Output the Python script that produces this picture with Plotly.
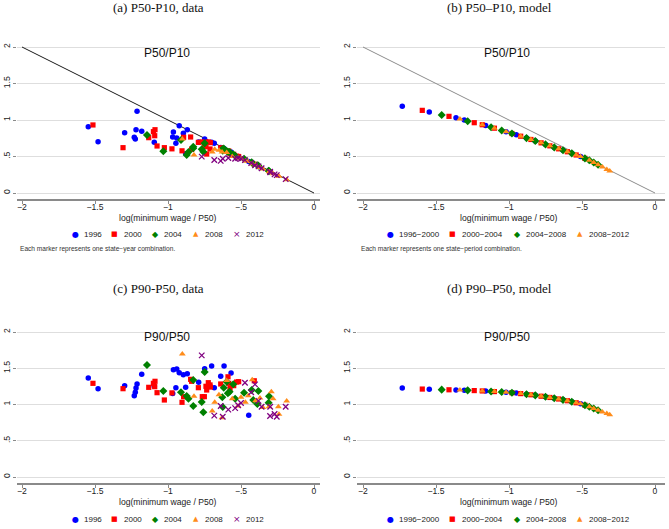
import plotly.graph_objects as go

# ---------------- data: panels (a) and (c), one entry per state-year ----------------
years = ["1996", "2000", "2004", "2008", "2012"]

x_1996 = [-1.546, -1.479, -1.297, -1.212, -1.219, -1.224, -1.231, -1.180, -1.094, -0.963,
          -0.968, -0.940, -0.946, -0.923, -0.895, -0.868, -0.879, -0.790, -0.749, -0.701,
          -0.683, -0.639, -0.616, -0.568, -0.447]
a_1996 = [0.908, 0.703, 0.826, 1.119, 0.867, 0.740, 0.763, 0.845, 0.694, 0.836,
          0.767, 0.753, 0.683, 0.920, 0.818, 0.868, 0.539, 0.700, 0.740, 0.695,
          0.680, 0.625, 0.610, 0.560, 0.430]
c_1996 = [1.366, 1.218, 1.260, 1.283, 1.228, 1.168, 1.122, 1.416, 1.250, 1.480,
          1.150, 1.490, 1.232, 1.439, 1.412, 1.425, 1.237, 1.306, 1.494, 1.531,
          1.232, 1.389, 1.531, 1.434, 0.851]

x_2000 = [-1.514, -1.308, -1.132, -1.100, -1.089, -1.091, -1.075, -1.025, -0.973, -0.893,
          -0.904, -0.845, -0.838, -0.792, -0.765, -0.751, -0.740, -0.735, -0.724, -0.712,
          -0.710, -0.639, -0.589, -0.584, -0.575, -0.550, -0.530, -0.516, -0.409]
a_2000 = [0.932, 0.621, 0.758, 0.840, 0.867, 0.785, 0.644, 0.621, 0.605, 0.763,
          0.578, 0.767, 0.598, 0.694, 0.700, 0.660, 0.634, 0.534, 0.700, 0.603,
          0.690, 0.620, 0.570, 0.575, 0.540, 0.530, 0.505, 0.500, 0.395]
c_2000 = [1.292, 1.218, 1.237, 1.292, 1.320, 1.246, 1.163, 1.062, 1.160, 1.108,
          1.030, 1.347, 1.320, 1.232, 1.108, 1.108, 1.251, 1.200, 1.301, 1.270,
          1.240, 1.283, 1.382, 1.292, 1.223, 1.260, 1.310, 1.315, 1.327]

x_2004 = [-1.144, -1.032, -0.911, -0.872, -0.860, -0.827, -0.827, -0.769, -0.758, -0.749,
          -0.628, -0.625, -0.618, -0.598, -0.590, -0.578, -0.553, -0.540, -0.479, -0.427,
          -0.416, -0.388, -0.381, -0.308, -0.311]
a_2004 = [0.795, 0.571, 0.726, 0.520, 0.560, 0.634, 0.612, 0.600, 0.566, 0.680,
          0.600, 0.580, 0.610, 0.575, 0.565, 0.560, 0.530, 0.510, 0.470, 0.420,
          0.400, 0.380, 0.375, 0.300, 0.305]
c_2004 = [1.545, 1.185, 1.168, 1.117, 1.080, 1.338, 0.979, 1.034, 0.892, 1.448,
          1.099, 0.966, 1.232, 1.315, 1.154, 1.177, 1.280, 1.080, 1.163, 1.200,
          1.062, 1.007, 1.186, 1.113, 1.025]

x_2008 = [-0.902, -0.822, -0.697, -0.680, -0.651, -0.630, -0.598, -0.560, -0.520, -0.500,
          -0.470, -0.450, -0.423, -0.400, -0.370, -0.350, -0.292, -0.308, -0.280, -0.244,
          -0.240, -0.187]
a_2008 = [0.740, 0.520, 0.560, 0.600, 0.585, 0.560, 0.555, 0.500, 0.480, 0.470,
          0.440, 0.430, 0.400, 0.385, 0.350, 0.330, 0.280, 0.290, 0.265, 0.235,
          0.230, 0.180]
c_2008 = [1.697, 1.113, 0.910, 1.030, 1.135, 0.818, 1.330, 1.080, 0.980, 1.100,
          1.030, 1.120, 1.343, 1.050, 1.090, 0.960, 1.177, 0.970, 1.080, 0.970,
          0.864, 1.048]

x_2012 = [-0.769, -0.683, -0.639, -0.625, -0.587, -0.540, -0.520, -0.500, -0.473, -0.430,
          -0.404, -0.380, -0.359, -0.301, -0.300, -0.270, -0.255, -0.194]
a_2012 = [0.498, 0.452, 0.440, 0.470, 0.480, 0.470, 0.480, 0.470, 0.450, 0.410,
          0.380, 0.365, 0.340, 0.290, 0.285, 0.255, 0.245, 0.190]
c_2012 = [1.678, 0.846, 0.979, 0.832, 0.929, 0.950, 0.990, 1.020, 1.301, 1.170,
          1.278, 1.050, 0.970, 0.841, 0.970, 0.870, 0.830, 0.970]

# ---------------- data: panels (b) and (d), one entry per state-period ----------------
periods = ["1996\u22122000", "2000\u22122004", "2004\u22122008", "2008\u22122012"]

mx_p1 = [-1.731, -1.546, -1.363, -1.306, -1.160, -1.020, -0.950, -0.880, -0.820, -0.750,
         -0.690, -0.630, -0.570, -0.510]
mb_p1 = [1.187, 1.110, 1.030, 1.000, 0.925, 0.840, 0.797, 0.752, 0.713, 0.666,
         0.625, 0.585, 0.543, 0.499]
md_p1 = [1.227, 1.212, 1.200, 1.197, 1.185, 1.168, 1.157, 1.141, 1.126, 1.106,
         1.087, 1.064, 1.039, 1.009]

mx_p2 = [-1.594, -1.411, -1.238, -1.183, -1.100, -0.980, -0.920, -0.850, -0.780, -0.720,
         -0.660, -0.600, -0.540, -0.480]
mb_p2 = [1.132, 1.050, 0.963, 0.935, 0.888, 0.815, 0.778, 0.733, 0.687, 0.646,
         0.605, 0.565, 0.521, 0.474]
md_p2 = [1.213, 1.203, 1.192, 1.187, 1.178, 1.163, 1.150, 1.134, 1.114, 1.097,
         1.076, 1.052, 1.024, 0.990]

mx_p3 = [-1.461, -1.283, -1.123, -1.050, -0.980, -0.880, -0.820, -0.750, -0.690, -0.630,
         -0.570, -0.480, -0.450, -0.420, -0.390]
mb_p3 = [1.068, 0.982, 0.900, 0.857, 0.815, 0.752, 0.713, 0.666, 0.625, 0.585,
         0.543, 0.474, 0.448, 0.418, 0.387]
md_p3 = [1.205, 1.195, 1.180, 1.172, 1.163, 1.141, 1.126, 1.106, 1.087, 1.064,
         1.039, 0.990, 0.968, 0.944, 0.920]

mx_p4 = [-1.336, -1.183, -1.100, -1.020, -0.920, -0.850, -0.780, -0.720, -0.660, -0.600,
         -0.540, -0.510, -0.450, -0.420, -0.390, -0.360, -0.330, -0.310]
mb_p4 = [1.014, 0.935, 0.888, 0.840, 0.778, 0.733, 0.687, 0.646, 0.605, 0.565,
         0.521, 0.499, 0.448, 0.418, 0.387, 0.356, 0.322, 0.302]
md_p4 = [1.199, 1.187, 1.178, 1.168, 1.150, 1.134, 1.114, 1.097, 1.076, 1.052,
         1.024, 1.009, 0.968, 0.944, 0.920, 0.898, 0.876, 0.860]

# 45-degree reference line (y = -x)
ref_x = [-2, 0]
ref_y = [2, 0]

x_ticks = [-2, -1.5, -1, -0.5, 0]
x_ticktext = ["\u22122", "\u22121.5", "\u22121", "\u2212.5", "0"]
y_ticks = [0, 0.5, 1, 1.5, 2]
y_ticktext = ["0", ".5", "1", "1.5", "2"]

# ---------------- styles ----------------
C_BLUE, C_RED, C_GREEN, C_ORANGE, C_PURPLE = "#0000ff", "#ff0000", "#008000", "#ff8c1a", "#800080"
styles = [
    dict(symbol="circle", color=C_BLUE, size=5.5),
    dict(symbol="square", color=C_RED, size=5.2),
    dict(symbol="diamond", color=C_GREEN, size=6.2),
    dict(symbol="triangle-up", color=C_ORANGE, size=6),
    dict(symbol="x-thin", color=C_PURPLE, size=5.5, line=dict(color=C_PURPLE, width=1.3)),
]

W, H = 669, 529
SANS = "Liberation Sans, Arial, sans-serif"
SERIF = "Liberation Serif, Times New Roman, serif"

fig = go.Figure()

# reference lines
fig.add_trace(go.Scatter(x=ref_x, y=ref_y, mode="lines", line=dict(color="#1a1a1a", width=1),
                         xaxis="x", yaxis="y", showlegend=False, hoverinfo="skip"))
fig.add_trace(go.Scatter(x=ref_x, y=ref_y, mode="lines", line=dict(color="#8c8c8c", width=1),
                         xaxis="x2", yaxis="y2", showlegend=False, hoverinfo="skip"))

data_x = [x_1996, x_2000, x_2004, x_2008, x_2012]
data_a = [a_1996, a_2000, a_2004, a_2008, a_2012]
data_c = [c_1996, c_2000, c_2004, c_2008, c_2012]
for i, yr in enumerate(years):
    fig.add_trace(go.Scatter(x=data_x[i], y=data_a[i], mode="markers", name=yr, marker=styles[i],
                             xaxis="x", yaxis="y", showlegend=False))
    fig.add_trace(go.Scatter(x=data_x[i], y=data_c[i], mode="markers", name=yr, marker=styles[i],
                             xaxis="x3", yaxis="y3", showlegend=False))

model_x = [mx_p1, mx_p2, mx_p3, mx_p4]
model_b = [mb_p1, mb_p2, mb_p3, mb_p4]
model_d = [md_p1, md_p2, md_p3, md_p4]
for i, p in enumerate(periods):
    fig.add_trace(go.Scatter(x=model_x[i], y=model_b[i], mode="markers", name=p, marker=styles[i],
                             xaxis="x2", yaxis="y2", showlegend=False))
    fig.add_trace(go.Scatter(x=model_x[i], y=model_d[i], mode="markers", name=p, marker=styles[i],
                             xaxis="x4", yaxis="y4", showlegend=False))

# ---------------- axes ----------------
def xaxis(dom, rng, anchor):
    return dict(domain=[dom[0] / W, dom[1] / W], range=rng, anchor=anchor,
                tickvals=x_ticks, ticktext=x_ticktext, showgrid=False, zeroline=False,
                showline=True, linecolor="#8a8a8a", linewidth=2,
                ticks="outside", ticklen=3, tickcolor="#8a8a8a", tickwidth=1,
                ticklabelstandoff=-4,
                tickfont=dict(family=SANS, size=8.6, color="#222"))

def yaxis(dom, rng, anchor):
    return dict(domain=[1 - dom[1] / H, 1 - dom[0] / H], range=rng, anchor=anchor,
                tickvals=y_ticks, ticktext=y_ticktext, tickangle=-90,
                showgrid=True, gridcolor="#dedede", gridwidth=1.2, zeroline=False,
                showline=False, ticks="outside", ticklen=3, tickcolor="#8a8a8a",
                tickfont=dict(family=SANS, size=8.6, color="#222"))

XL = (17, 320)
XR = (357, 665)
YT = (40, 199)
YB = (325, 483)
xr_left = [-2 - 5 / 146, 6 / 146]
xr_right = [-2 - 6 / 146, 302 / 146 - 2]
yr_top = [-6 / 73, 153 / 73]
yr_bot = [-6 / 72.5, 152 / 72.5]

fig.update_layout(
    width=W, height=H, margin=dict(l=0, r=0, t=0, b=0),
    paper_bgcolor="white", plot_bgcolor="white", showlegend=False,
    xaxis=xaxis(XL, xr_left, "y"), yaxis=yaxis(YT, yr_top, "x"),
    xaxis2=xaxis(XR, xr_right, "y2"), yaxis2=yaxis(YT, yr_top, "x2"),
    xaxis3=xaxis(XL, xr_left, "y3"), yaxis3=yaxis(YB, yr_bot, "x3"),
    xaxis4=xaxis(XR, xr_right, "y4"), yaxis4=yaxis(YB, yr_bot, "x4"),
)

ann = []
def txt(x, y, s, size, family=SANS, color="#222", xanchor="center"):
    ann.append(dict(x=x / W, y=1 - y / H, xref="paper", yref="paper", text=s, showarrow=False,
                    xanchor=xanchor, yanchor="middle", font=dict(family=family, size=size, color=color)))

# panel titles
txt(158, 7, "(a) P50-P10, data", 13, SERIF, "#111")
txt(499, 7, "(b) P50\u2013P10, model", 13, SERIF, "#111")
txt(158, 288, "(c) P90-P50, data", 13, SERIF, "#111")
txt(499, 288, "(d) P90\u2013P50, model", 13, SERIF, "#111")
# inner subtitles
txt(167, 53, "P50/P10", 12, SANS, "#111")
txt(507, 53, "P50/P10", 12, SANS, "#111")
txt(167, 337, "P90/P50", 12, SANS, "#111")
txt(507, 337, "P90/P50", 12, SANS, "#111")
# x titles
for (cx, cy) in [(168, 218), (509, 218), (168, 502), (509, 502)]:
    txt(cx, cy, "log(minimum wage / P50)", 8.6)

# legends (keys drawn as glyphs)
glyphs = [("\u25CF", C_BLUE, 8), ("\u25A0", C_RED, 7), ("\u25C6", C_GREEN, 8),
          ("\u25B2", C_ORANGE, 7), ("\u00D7", C_PURPLE, 9)]
GLYPH_FONT = "DejaVu Sans, sans-serif"
def legend(keys_x, labels, cy):
    for (gx, lab, g) in zip(keys_x, labels, glyphs):
        txt(gx, cy, g[0], g[2], GLYPH_FONT, g[1])
        txt(gx + 7, cy, lab, 8, SANS, "#222", xanchor="left")

legend([75, 115, 155, 196, 237], years, 234)
legend([75, 115, 155, 196, 237], years, 519)
legend([390, 453, 517, 580], periods, 234)
legend([390, 453, 517, 580], periods, 519)

# notes
txt(18, 249, "Each marker represents one state\u2212year combination.", 6.6, SANS, "#333", xanchor="left")
txt(359, 249, "Each marker represents one state\u2212period combination.", 6.6, SANS, "#333", xanchor="left")

fig.update_layout(annotations=ann)
fig.write_html("out.html")
